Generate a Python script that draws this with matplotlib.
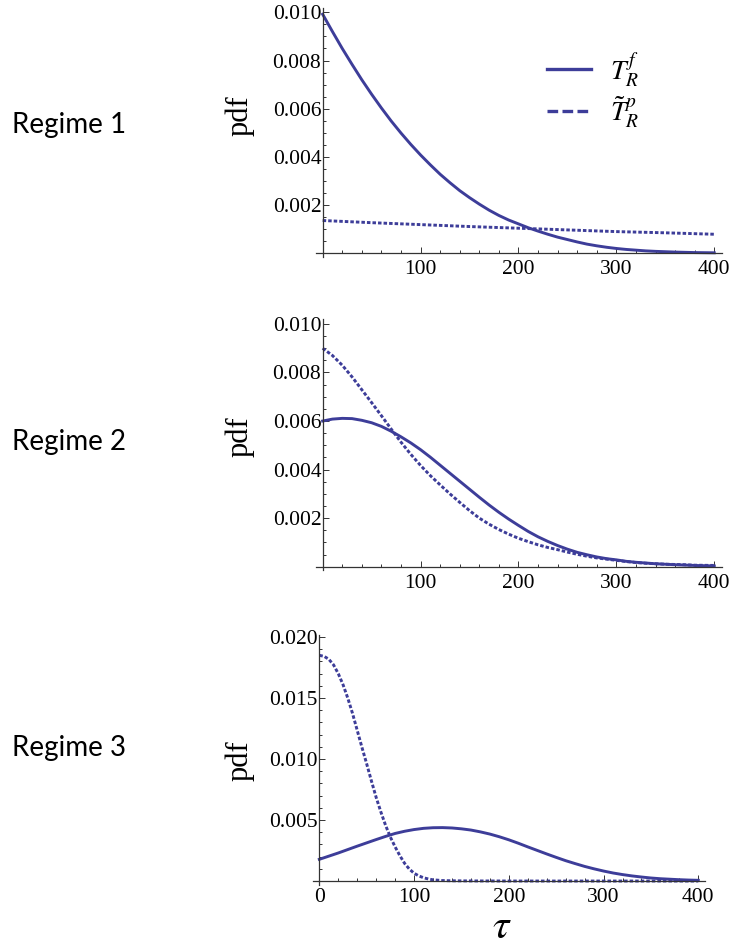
import matplotlib
matplotlib.use("Agg")
import matplotlib.pyplot as plt
from matplotlib.lines import Line2D
from matplotlib.ticker import MultipleLocator, FixedLocator

plt.rcParams["font.family"] = "serif"
plt.rcParams["font.serif"] = ["Liberation Serif", "DejaVu Serif"]
plt.rcParams["mathtext.fontset"] = "stix"

# Data (pdf values, in units of 1e-3)
tau = list(range(0, 401, 10))

# Regime 1
r1_free = [9.92, 9.20, 8.50, 7.84, 7.20, 6.60, 6.03, 5.49, 4.99, 4.52,
           4.08, 3.67, 3.28, 2.93, 2.60, 2.31, 2.04, 1.79, 1.57, 1.38,
           1.22, 1.06, 0.92, 0.79, 0.67, 0.57, 0.47, 0.38, 0.31, 0.25,
           0.20, 0.16, 0.13, 0.10, 0.08, 0.065, 0.05, 0.04, 0.03, 0.025, 0.02]
r1_pass_tau = [0, 50, 100, 150, 200, 250, 300, 350, 400]
r1_pass = [1.36, 1.27, 1.19, 1.11, 1.04, 0.97, 0.90, 0.85, 0.79]

# Regime 2
r2_free = [6.00, 6.08, 6.11, 6.10, 6.03, 5.93, 5.78, 5.58, 5.35, 5.10,
           4.82, 4.51, 4.18, 3.85, 3.52, 3.19, 2.86, 2.54, 2.24, 1.96,
           1.70, 1.45, 1.23, 1.04, 0.87, 0.72, 0.59, 0.49, 0.40, 0.33,
           0.28, 0.22, 0.18, 0.15, 0.12, 0.10, 0.08, 0.065, 0.05, 0.04, 0.03]
r2_pass = [9.00, 8.70, 8.30, 7.82, 7.29, 6.76, 6.22, 5.67, 5.13, 4.63,
           4.17, 3.75, 3.37, 3.00, 2.65, 2.31, 2.00, 1.75, 1.53, 1.34,
           1.17, 1.03, 0.90, 0.79, 0.70, 0.60, 0.51, 0.43, 0.36, 0.31,
           0.26, 0.21, 0.17, 0.14, 0.12, 0.10, 0.09, 0.08, 0.06, 0.055, 0.05]

# Regime 3
r3_free = [1.78, 2.04, 2.30, 2.58, 2.86, 3.13, 3.40, 3.66, 3.90, 4.08,
           4.22, 4.32, 4.37, 4.38, 4.35, 4.28, 4.18, 4.03, 3.85, 3.63,
           3.38, 3.10, 2.80, 2.51, 2.22, 1.94, 1.67, 1.43, 1.20, 1.00,
           0.82, 0.66, 0.53, 0.42, 0.33, 0.25, 0.19, 0.15, 0.11, 0.08, 0.06]
r3_pass_tau = [0, 5, 10, 15, 20, 25, 30, 35, 40, 45, 50, 55, 60, 65, 70,
               75, 80, 85, 90, 95, 100, 105, 110, 115, 120, 130, 140, 160,
               200, 250, 300, 400]
r3_pass = [18.50, 18.42, 18.18, 17.72, 17.00, 16.10, 15.00, 13.75, 12.35,
           10.95, 9.60, 8.20, 6.85, 5.65, 4.55, 3.60, 2.80, 2.08, 1.45,
           0.98, 0.64, 0.42, 0.27, 0.17, 0.10, 0.04, 0.02, 0.008, 0.002,
           0.0005, 0.0, 0.0]

color = "#3d3d99"
lw = 2.1
dots = (1.2, 0.7)

fig = plt.figure(figsize=(7.3, 9.48), dpi=100)

W, H = 730.0, 948.0
# axes boxes in pixels: left, top, right, bottom
boxes = [(315.8, 7.5, 722.1, 256.9),
         (315.8, 319.1, 722.1, 570.3),
         (312.7, 634.6, 705.4, 884.7)]
axes = []
for (l, t, r, b) in boxes:
    axes.append(fig.add_axes([l / W, 1 - b / H, (r - l) / W, (b - t) / H]))

series = [
    (tau, r1_free, r1_pass_tau, r1_pass, (-0.00015, 0.0102), 0.002, 0.0005),
    (tau, r2_free, tau, r2_pass, (-0.00015, 0.0102), 0.002, 0.0005),
    (tau, r3_free, r3_pass_tau, r3_pass, (-0.0003, 0.0202), 0.005, 0.001),
]

for i, (ax, (tf, yf, tp, yp, ylim, ymaj, ymin)) in enumerate(zip(axes, series)):
    ax.plot(tf, [v * 1e-3 for v in yf], color=color, lw=lw,
            solid_joinstyle="round")
    ax.plot(tp, [v * 1e-3 for v in yp], color=color, lw=lw, dashes=dots,
            dash_capstyle="butt")
    if i == 2:
        ax.set_xlim(-7, 407.5)
    else:
        ax.set_xlim(-7, 408)
    ax.set_ylim(*ylim)
    for s in ["top", "right"]:
        ax.spines[s].set_visible(False)
    ax.spines["left"].set_position(("data", 0))
    ax.spines["bottom"].set_position(("data", 0))
    for s in ["left", "bottom"]:
        ax.spines[s].set_linewidth(0.9)
        ax.spines[s].set_color("#333333")
    ax.patch.set_alpha(0)

    if i == 2:
        ax.xaxis.set_major_locator(FixedLocator([0, 100, 200, 300, 400]))
    else:
        ax.xaxis.set_major_locator(FixedLocator([100, 200, 300, 400]))
    ax.xaxis.set_minor_locator(MultipleLocator(20))
    yt = [ymaj * k for k in range(1, 6) if ymaj * k <= ylim[1] + 1e-9]
    ax.yaxis.set_major_locator(FixedLocator(yt))
    ax.yaxis.set_minor_locator(MultipleLocator(ymin))
    ax.set_yticklabels(["%.3f" % v for v in yt])

    ax.tick_params(axis="both", which="both", direction="in", color="#333333",
                   width=0.7, labelsize=15.5)
    ax.tick_params(axis="both", which="major", length=4.5)
    ax.tick_params(axis="both", which="minor", length=2.5)
    ax.tick_params(axis="x", which="major", pad=5)
    ax.tick_params(axis="y", which="major", pad=1)

# legend in the first panel
handles = [Line2D([], [], color=color, lw=2.4),
           Line2D([], [], color=color, lw=2.4, dashes=(3.2, 1.3))]
fig.legend(handles, [r"$T_R^f$", r"$\tilde{T}_R^p$"],
           loc="upper left", bbox_to_anchor=(547 / W, 1 - 50 / H),
           frameon=False, fontsize=20, handlelength=1.58, handletextpad=0.68,
           labelspacing=0.18, borderpad=0, borderaxespad=0)

# side labels
pdf_y = [116, 437, 761]
reg_y = [125, 442, 748]
for k in range(3):
    fig.text(240 / W, 1 - pdf_y[k] / H, "pdf", rotation=90, fontsize=22,
             ha="center", va="center")
    fig.text(12 / W, 1 - reg_y[k] / H, "Regime %d" % (k + 1), fontsize=20,
             family=["Lato", "DejaVu Sans"], ha="left", va="center")

fig.text(502 / W, 1 - 928 / H, r"$\tau$", fontsize=30, ha="center", va="center")

fig.savefig("out.png", dpi=100)
